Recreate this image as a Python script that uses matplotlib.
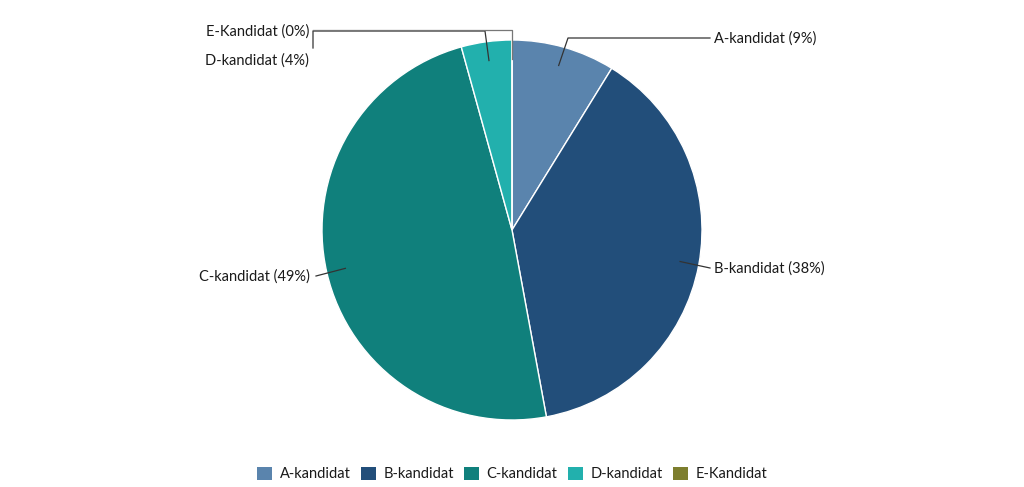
import matplotlib
matplotlib.use("Agg")
import matplotlib.pyplot as plt
import numpy as np

categories = ["A-kandidat", "B-kandidat", "C-kandidat", "D-kandidat", "E-Kandidat"]
values = [8.8, 38.3, 48.6, 4.3, 0.0]
pct_labels = ["9%", "38%", "49%", "4%", "0%"]
colors = ["#5a84ad", "#224e7a", "#10807c", "#22b0ad", "#7d7e2e"]

plt.rcParams['font.family'] = ['Lato', 'DejaVu Sans']
W, H = 1024, 487
fig = plt.figure(figsize=(W / 100, H / 100), dpi=100)
ax = fig.add_axes([0, 0, 1, 1])

cx, cy, R = 512, H - 230, 190
wedges, _ = ax.pie(values, colors=colors, startangle=90, counterclock=False,
                   center=(cx, cy), radius=R, frame=True,
                   wedgeprops=dict(edgecolor='white', linewidth=1))
ax.set_xlim(0, W)
ax.set_ylim(0, H)
ax.set_aspect('equal')
ax.axis('off')

def anchor(w, frac=0.9):
    ang = np.deg2rad((w.theta1 + w.theta2) / 2)
    return cx + frac * R * np.cos(ang), cy + frac * R * np.sin(ang)

lc = '#333333'
fs = 10.5
tc = '#1a1a1a'
# A
x0, y0 = anchor(wedges[0])
ax.plot([x0, 568, 710], [y0, H - 38, H - 38], color=lc, lw=0.9)
ax.text(714, H - 39, f"{categories[0]} ({pct_labels[0]})", va='center', ha='left', fontsize=fs, color=tc)
# B
x0, y0 = anchor(wedges[1])
ax.plot([x0, 710], [y0, H - 268], color=lc, lw=0.9)
ax.text(714, H - 269, f"{categories[1]} ({pct_labels[1]})", va='center', ha='left', fontsize=fs, color=tc)
# C
x0, y0 = anchor(wedges[2])
ax.plot([x0, 316], [y0, H - 276], color=lc, lw=0.9)
ax.text(310, H - 277, f"{categories[2]} ({pct_labels[2]})", va='center', ha='right', fontsize=fs, color=tc)
# D
x0, y0 = anchor(wedges[3])
ax.plot([x0, 485, 313, 313], [y0, H - 31, H - 31, H - 48], color=lc, lw=0.9)
ax.text(309, H - 61, f"{categories[3]} ({pct_labels[3]})", va='center', ha='right', fontsize=fs, color=tc)
# E
x0, y0 = anchor(wedges[4])
ax.plot([x0, x0, 313], [y0, H - 30, H - 30], color='#777777', lw=0.9)
ax.text(309, H - 32, f"{categories[4]} ({pct_labels[4]})", va='center', ha='right', fontsize=fs, color=tc)

leg = fig.legend(wedges, categories, loc='center', bbox_to_anchor=(0.5, 1 - 474 / H), ncol=5,
                 frameon=False, fontsize=fs, handlelength=1.05, handleheight=1.05,
                 handletextpad=0.5, columnspacing=0.7)
for h in leg.legend_handles:
    h.set_edgecolor('none')
for t in leg.get_texts():
    t.set_color(tc)

fig.savefig("out.png", dpi=100)
